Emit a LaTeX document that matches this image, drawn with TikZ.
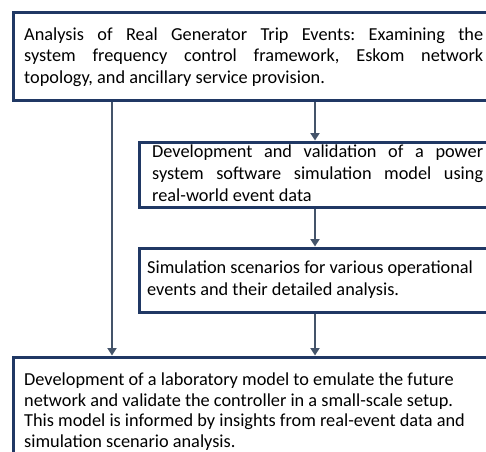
\documentclass[tikz,border=0pt]{standalone}
\usepackage{fontspec}
\setmainfont{Carlito}
\frenchspacing
\usetikzlibrary{arrows.meta,fit}
\definecolor{boxline}{HTML}{203864}
\definecolor{arrline}{HTML}{44546A}
\tikzset{
  box/.style={draw=boxline, line width=3pt, inner sep=0pt, rectangle},
  txt/.style={inner sep=0pt, align=left, font=\fontsize{18.3}{21.9}\selectfont, text=black},
  arr/.style={draw=arrline, line width=2.4pt, -{Triangle[length=7.5pt,width=9pt]}}
}
\begin{document}
\begin{tikzpicture}[x=1pt,y=-1pt]
  \useasboundingbox (0,0) rectangle (486,451);
  \fill[white] (0,0) rectangle (486,451);
  \clip (0,0) rectangle (486,451);

  % boxes (they run past the right and bottom edges)
  \node[box, fit={(13,12)(530,100)}] (b1) {};
  \node[box, fit={(139,142)(530,207)}] (b2) {};
  \node[box, fit={(139,248)(530,312)}] (b3) {};
  \node[box, fit={(13,357)(530,480)}] (b4) {};

  % texts, placed by the baseline of their last line
  \node[txt, anchor=base west] (t1) at (24,83.8)
    {\makebox[459pt][s]{Analysis of Real Generator Trip Events: Examining the}\\
     \makebox[459pt][s]{system frequency control framework, Eskom network}\\
     topology, and ancillary service provision.};
  \node[txt, anchor=base west] (t2) at (152,201.5)
    {\makebox[331pt][s]{Development and validation of a power}\\
     \makebox[331pt][s]{system software simulation model using}\\
     real-world event data};
  \node[txt, anchor=base west] (t3) at (147,295.2)
    {Simulation scenarios for various operational\\
     events and their detailed analysis.};
  \node[txt, anchor=base west, font=\fontsize{18.3}{20.5}\selectfont] (t4) at (24,447.3)
    {Development of a laboratory model to emulate the future\\
     network and validate the controller in a small-scale setup.\\
     This model is informed by insights from real-event data and\\
     simulation scenario analysis.};

  % connector columns
  \coordinate (lx) at (112,0);
  \coordinate (mx) at (315,0);

  \draw[arr] (lx |- b1.south) -- (lx |- b4.north);
  \draw[arr] (mx |- b1.south) -- (mx |- b2.north);
  \draw[arr] (mx |- b2.south) -- (mx |- b3.north);
  \draw[arr] (mx |- b3.south) -- (mx |- b4.north);
\end{tikzpicture}
\end{document}
